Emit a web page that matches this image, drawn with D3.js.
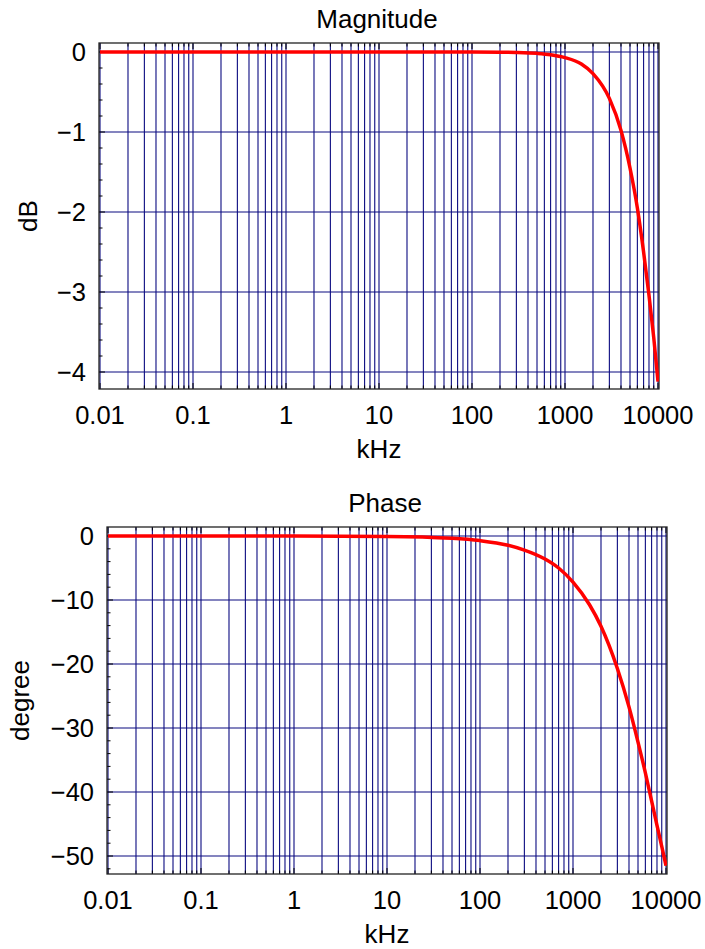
<!DOCTYPE html>
<html>
<head>
<meta charset="utf-8">
<script src="https://cdn.jsdelivr.net/npm/d3@7"></script>
<style>
  body { margin: 0; background: #fff; }
  text { font-family: "Liberation Sans", Arial, sans-serif; fill: #000; }
</style>
</head>
<body>
<div id="chart"></div>
<script>
// values
const freqKHz = [0.01, 0.1, 1, 10, 50, 100, 200, 300, 500, 700, 1000, 1500, 2000, 3000, 4000, 5000, 6000, 7000, 8000, 9000, 10000];
const magDb = [0, 0, 0, 0, -0.0002, -0.0007, -0.003, -0.006, -0.017, -0.034, -0.07, -0.15, -0.27, -0.58, -0.98, -1.45, -1.95, -2.5, -3.04, -3.57, -4.12];
const phaseDeg = [0, 0, -0.01, -0.07, -0.36, -0.72, -1.44, -2.2, -3.6, -5.0, -7.2, -10.7, -14.1, -20.7, -26.7, -32.2, -37.0, -41.4, -45.2, -48.5, -51.5];

const xTickValues = [0.01, 0.1, 1, 10, 100, 1000, 10000];
const xTickLabels = ["0.01", "0.1", "1", "10", "100", "1000", "10000"];
const magTicks = [0, -1, -2, -3, -4];
const phaseTicks = [0, -10, -20, -30, -40, -50];

const svg = d3.select("#chart")
    .append("svg")
    .attr("width", 705)
    .attr("height", 949);

const minus = s => String(s).replace("-", "\u2212");

function drawPanel(opt) {
    const { frame, xRange, yDomain, yRange, yTicks, yMinorStep, values, title, yLabel, yLabelX, id } = opt;

    const x = d3.scaleLog().domain([0.01, 10000]).range(xRange);
    const y = d3.scaleLinear().domain(yDomain).range(yRange);

    const g = svg.append("g");

    // clip for the curve
    svg.append("clipPath").attr("id", id)
        .append("rect")
        .attr("x", frame.left).attr("y", frame.top)
        .attr("width", frame.right - frame.left)
        .attr("height", frame.bottom - frame.top);

    // vertical grid: every 1..9 of each decade
    const gridX = [];
    for (let e = -2; e <= 3; e++) {
        for (let m = 1; m <= 9; m++) gridX.push(m * Math.pow(10, e));
    }
    gridX.push(10000);

    g.append("g")
        .selectAll("line")
        .data(gridX)
        .enter()
        .append("line")
        .attr("x1", d => x(d)).attr("x2", d => x(d))
        .attr("y1", frame.top).attr("y2", frame.bottom)
        .attr("stroke", "#0a0a80")
        .attr("stroke-width", 1.1);

    // horizontal grid at major ticks
    g.append("g")
        .selectAll("line")
        .data(yTicks)
        .enter()
        .append("line")
        .attr("x1", frame.left).attr("x2", frame.right)
        .attr("y1", d => y(d)).attr("y2", d => y(d))
        .attr("stroke", "#0a0a80")
        .attr("stroke-width", 1.1);

    // x ticks, inward at bottom and top
    const ticksX = g.append("g");
    gridX.forEach(d => {
        const len = xTickValues.includes(d) ? 6 : 3.5;
        ticksX.append("line")
            .attr("x1", x(d)).attr("x2", x(d))
            .attr("y1", frame.bottom).attr("y2", frame.bottom - len)
            .attr("stroke", "#000");
        ticksX.append("line")
            .attr("x1", x(d)).attr("x2", x(d))
            .attr("y1", frame.top).attr("y2", frame.top + len)
            .attr("stroke", "#000");
    });

    // y ticks, inward on the left
    const yMinor = d3.range(yDomain[0], yDomain[1] - 1e-9, -yMinorStep);
    g.append("g")
        .selectAll("line")
        .data(yMinor.filter(d => y(d) >= frame.top && y(d) <= frame.bottom))
        .enter()
        .append("line")
        .attr("x1", frame.left).attr("x2", d => frame.left + (yTicks.includes(Math.round(d * 1000) / 1000) ? 6 : 3.5))
        .attr("y1", d => y(d)).attr("y2", d => y(d))
        .attr("stroke", "#000");

    // frame
    g.append("rect")
        .attr("x", frame.left).attr("y", frame.top)
        .attr("width", frame.right - frame.left)
        .attr("height", frame.bottom - frame.top)
        .attr("fill", "none")
        .attr("stroke", "#222")
        .attr("stroke-width", 1.3);

    // curve
    const line = d3.line()
        .x((d, i) => x(freqKHz[i]))
        .y(d => y(d))
        .curve(d3.curveMonotoneX);

    g.append("path")
        .datum(values)
        .attr("clip-path", `url(#${id})`)
        .attr("d", line)
        .attr("fill", "none")
        .attr("stroke", "#ff0000")
        .attr("stroke-width", 3.5)
        .attr("stroke-linejoin", "round");

    // x tick labels
    g.append("g")
        .selectAll("text")
        .data(xTickValues)
        .enter()
        .append("text")
        .attr("x", d => x(d))
        .attr("y", frame.bottom + 35)
        .attr("text-anchor", "middle")
        .style("font-size", "25.5px")
        .text((d, i) => xTickLabels[i]);

    // y tick labels
    g.append("g")
        .selectAll("text")
        .data(yTicks)
        .enter()
        .append("text")
        .attr("x", frame.left - 13)
        .attr("y", d => y(d))
        .attr("dy", "0.36em")
        .attr("text-anchor", "end")
        .style("font-size", "25.5px")
        .text(d => minus(d));

    // title
    g.append("text")
        .attr("x", (frame.left + frame.right) / 2 - 2)
        .attr("y", frame.top - 15)
        .attr("text-anchor", "middle")
        .style("font-size", "26px")
        .text(title);

    // x axis label
    g.append("text")
        .attr("x", (frame.left + frame.right) / 2)
        .attr("y", frame.bottom + 69)
        .attr("text-anchor", "middle")
        .style("font-size", "26px")
        .text("kHz");

    // y axis label
    const cy = (frame.top + frame.bottom) / 2;
    g.append("text")
        .attr("transform", `translate(${yLabelX}, ${cy}) rotate(-90)`)
        .attr("text-anchor", "middle")
        .style("font-size", "26px")
        .text(yLabel);
}

drawPanel({
    id: "clipMag",
    frame: { left: 99, right: 659, top: 43, bottom: 389 },
    xRange: [100, 658],
    yDomain: [0, -4],
    yRange: [52, 372],
    yTicks: magTicks,
    yMinorStep: 0.2,
    values: magDb,
    title: "Magnitude",
    yLabel: "dB",
    yLabelX: 37
});

drawPanel({
    id: "clipPhase",
    frame: { left: 107, right: 667, top: 527, bottom: 874 },
    xRange: [108, 666],
    yDomain: [0, -52],
    yRange: [536, 868.8],
    yTicks: phaseTicks,
    yMinorStep: 2,
    values: phaseDeg,
    title: "Phase",
    yLabel: "degree",
    yLabelX: 29
});
</script>
</body>
</html>
